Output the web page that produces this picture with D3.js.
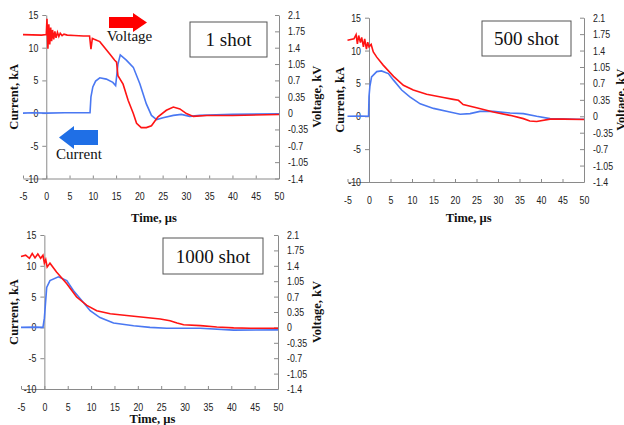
<!DOCTYPE html>
<html>
<head>
<meta charset="utf-8">
<script src="https://cdn.jsdelivr.net/npm/d3@7"></script>
<style>
  body { margin: 0; background: #fff; }
  svg { display: block; }
  .tick text { font-family: "Liberation Sans", Arial, sans-serif; font-size: 11px; fill: #222; }
  .axis path, .axis line { stroke: #8a8a8a; }
  .title { font-family: "Liberation Serif", "Times New Roman", serif; font-weight: bold; font-size: 12.5px; fill: #111; }
  .shot { font-family: "Liberation Serif", "Times New Roman", serif; font-size: 19px; fill: #111; }
  .note { font-family: "Liberation Serif", "Times New Roman", serif; font-size: 15px; fill: #111; }
</style>
</head>
<body>
<script>
// tick values
const timeTicks = [-5, 0, 5, 10, 15, 20, 25, 30, 35, 40, 45, 50];
const currentTicks = [-10, -5, 0, 5, 10, 15];
const voltageTicks = [-1.4, -1.05, -0.7, -0.35, 0, 0.35, 0.7, 1.05, 1.4, 1.75, 2.1];
const shotLabels = ["1 shot", "500 shot", "1000 shot"];

// [time us, current kA]
const current1 = [[-5, 0], [-3, 0.05], [0, 0], [4, 0.05], [9.4, 0.05], [9.6, 2.5], [10, 4.0], [10.6, 4.9], [11.5, 5.4],
  [12.9, 5.2], [14.3, 4.7], [14.9, 4.2], [15.1, 5.5], [15.4, 7.5], [15.9, 8.9], [17.2, 8.1], [18.7, 7.0],
  [20.1, 4.5], [21.5, 1.4], [22.6, -0.35], [23.7, -1.0], [25.1, -0.7], [27.3, -0.35], [29, -0.2],
  [30.8, -0.5], [33, -0.35], [40, -0.2], [50, -0.1]];
// [time us, voltage kV]
const voltage1 = [[-5, 1.68], [-1, 1.67], [0, 1.68], [0.15, 2.02], [0.35, 1.38], [0.55, 1.9], [0.75, 1.47],
  [0.95, 1.83], [1.15, 1.54], [1.35, 1.78], [1.6, 1.58], [1.85, 1.75], [2.1, 1.61], [2.4, 1.73], [2.7, 1.64],
  [3.0, 1.71], [3.4, 1.66], [3.8, 1.69], [4.5, 1.67], [6, 1.66], [8, 1.65], [9.3, 1.65], [9.6, 1.37],
  [9.9, 1.6], [10.3, 1.58], [11.5, 1.53], [13.6, 1.27], [14.7, 1.13], [15.1, 1.09], [15.4, 0.8],
  [16.5, 0.62], [17.6, 0.27], [18.7, -0.01], [19.4, -0.22], [20.4, -0.31], [21.5, -0.31], [22.6, -0.27],
  [24.0, -0.08], [25.8, 0.06], [27.3, 0.13], [28.7, 0.09], [30.1, -0.01], [31.6, -0.07], [34.4, -0.05],
  [40, -0.05], [50, -0.03]];

const current500 = [[-5, 0], [-2, 0.05], [-0.1, 0], [0, 3.0], [0.2, 4.5], [0.6, 6.0], [1.8, 6.8], [2.9, 6.9],
  [4.5, 6.5], [5.7, 5.5], [7.6, 4.0], [9.5, 2.95], [11.9, 1.9], [15, 1.2], [18.8, 0.65], [21.2, 0.3],
  [23.5, 0.4], [25.8, 0.75], [28.9, 0.75], [32.8, 0.5], [35.9, 0.4], [39, 0], [42.1, -0.35], [48.3, -0.45],
  [50, -0.45]];
const voltage500 = [[-5, 1.62], [-3.5, 1.65], [-3.0, 1.74], [-2.7, 1.54], [-2.4, 1.72], [-2.0, 1.57],
  [-1.7, 1.68], [-1.3, 1.48], [-1.0, 1.65], [-0.6, 1.43], [-0.3, 1.58], [0, 1.48], [0.5, 1.53], [1.0, 1.37],
  [1.8, 1.26], [3.3, 1.09], [5.7, 0.85], [8.0, 0.66], [10.3, 0.56], [13.4, 0.47], [17.3, 0.4], [19.6, 0.36],
  [20.8, 0.34], [21.9, 0.25], [25, 0.18], [28.9, 0.09], [32.8, 0.02], [35.9, -0.05], [37.4, -0.1],
  [39, -0.11], [42.1, -0.06], [45.2, -0.06], [50, -0.07]];

const current1000 = [[-5, 0], [-2, 0.05], [-0.3, 0], [0, 1.5], [0.2, 3.5], [0.5, 6.5], [1.2, 7.6], [3.0, 8.2],
  [4.8, 7.6], [6.2, 6.0], [8.4, 4.0], [9.8, 2.7], [11.9, 1.6], [14.8, 0.7], [19.1, 0.27], [22.6, 0],
  [26.2, -0.15], [33.4, -0.15], [40.5, -0.45], [50, -0.4]];
const voltage1000 = [[-5, 1.61], [-4, 1.64], [-3.2, 1.57], [-2.6, 1.68], [-2.0, 1.58], [-1.4, 1.67],
  [-0.8, 1.57], [-0.3, 1.64], [0, 1.46], [0.3, 1.54], [0.6, 1.37], [1.2, 1.46], [2.6, 1.26], [4.8, 0.99],
  [6.9, 0.69], [9.1, 0.5], [11.2, 0.38], [14.1, 0.31], [17.6, 0.27], [21.2, 0.23], [24.8, 0.19],
  [26.9, 0.15], [28.4, 0.1], [29.8, 0.06], [33.4, 0.04], [36.9, 0.01], [40.5, -0.01], [44.1, -0.02],
  [50, -0.02]];

// layout of the three panels
const panels = [
  { label: shotLabels[0], current: current1, voltage: voltage1, xr: [23, 279], yr: [178.5, 15],
    box: [190, 22, 77, 35], rightTitle: 317, leftTitle: 14, timeY: 222 },
  { label: shotLabels[1], current: current500, voltage: voltage500, xr: [347.5, 584], yr: [182, 17.7],
    box: [482, 21, 89, 35], rightTitle: 621, leftTitle: 340, timeY: 222 },
  { label: shotLabels[2], current: current1000, voltage: voltage1000, xr: [21, 278], yr: [389, 235],
    box: [163, 238, 100, 36], rightTitle: 317, leftTitle: 14, timeY: 423 }
];

const narrow = 0.8;  // tick labels are a condensed face in the original
const fmt = d => String(+(+d).toFixed(2));

// squeeze tick text horizontally, keeping its anchor in place
function squeeze(sel) {
  sel.selectAll(".tick text").each(function () {
    const t = d3.select(this);
    const x0 = +t.attr("x") || 0;
    t.attr("x", x0 / narrow).attr("transform", `scale(${narrow},1)`);
  });
}

const svg = d3.select("body").append("svg")
  .attr("width", 624)
  .attr("height", 425);

svg.append("rect").attr("width", 624).attr("height", 425).attr("fill", "#fff");

panels.forEach(p => {
  const x = d3.scaleLinear().domain([-5, 50]).range(p.xr);
  const yI = d3.scaleLinear().domain([-10, 15]).range(p.yr);
  const yV = d3.scaleLinear().domain([-1.4, 2.1]).range(p.yr);
  const g = svg.append("g");

  // x axis along the bottom, ticks pointing up
  g.append("g").attr("class", "axis")
    .attr("transform", `translate(0,${yI(-10)})`)
    .call(d3.axisBottom(x).tickValues(timeTicks).tickFormat(fmt)
      .tickSizeInner(-3).tickSizeOuter(0).tickPadding(14))
    .call(squeeze);

  // current axis crosses at t = 0
  g.append("g").attr("class", "axis")
    .attr("transform", `translate(${x(0)},0)`)
    .call(d3.axisLeft(yI).tickValues(currentTicks).tickFormat(fmt)
      .tickSizeInner(4).tickSizeOuter(0).tickPadding(4))
    .call(squeeze);

  // voltage axis on the right, ticks pointing in
  g.append("g").attr("class", "axis")
    .attr("transform", `translate(${x(50)},0)`)
    .call(d3.axisRight(yV).tickValues(voltageTicks).tickFormat(fmt)
      .tickSizeInner(-4).tickSizeOuter(0).tickPadding(9))
    .call(squeeze);

  const lineI = d3.line().x(d => x(d[0])).y(d => yI(d[1]));
  const lineV = d3.line().x(d => x(d[0])).y(d => yV(d[1]));

  g.append("path").datum(p.current)
    .attr("d", lineI).attr("fill", "none").attr("stroke", "#4a78f2").attr("stroke-width", 1.6);
  g.append("path").datum(p.voltage)
    .attr("d", lineV).attr("fill", "none").attr("stroke", "#ff1414").attr("stroke-width", 1.6);

  // titles
  const midY = (p.yr[0] + p.yr[1]) / 2;
  g.append("text").attr("class", "title")
    .attr("transform", `translate(${p.leftTitle},${midY}) rotate(-90)`)
    .attr("text-anchor", "middle").attr("dy", "0.35em")
    .text("Current, kA");
  g.append("text").attr("class", "title")
    .attr("transform", `translate(${p.rightTitle},${midY}) rotate(-90)`)
    .attr("text-anchor", "middle").attr("dy", "0.35em")
    .text("Voltage, kV");
  g.append("text").attr("class", "title")
    .attr("x", (p.xr[0] + p.xr[1]) / 2 + 3).attr("y", p.timeY)
    .attr("text-anchor", "middle")
    .text("Time, µs");

  // shot label box
  g.append("rect")
    .attr("x", p.box[0]).attr("y", p.box[1]).attr("width", p.box[2]).attr("height", p.box[3])
    .attr("fill", "#fff").attr("stroke", "#555").attr("stroke-width", 1);
  g.append("text").attr("class", "shot")
    .attr("x", p.box[0] + p.box[2] / 2).attr("y", p.box[1] + p.box[3] / 2)
    .attr("text-anchor", "middle").attr("dy", "0.35em")
    .text(p.label);
});

// arrows in the first panel
svg.append("polygon")
  .attr("points", "109,17 133,17 133,13 147,22.5 133,32 133,28 109,28")
  .attr("fill", "#ff0000");
svg.append("text").attr("class", "note").attr("x", 129.5).attr("y", 41)
  .attr("text-anchor", "middle").text("Voltage");

svg.append("polygon")
  .attr("points", "98,130 74,130 74,126 59,137.5 74,149 74,145 98,145")
  .attr("fill", "#1f6fe6");
svg.append("text").attr("class", "note").attr("x", 79).attr("y", 159)
  .attr("text-anchor", "middle").text("Current");
</script>
</body>
</html>
